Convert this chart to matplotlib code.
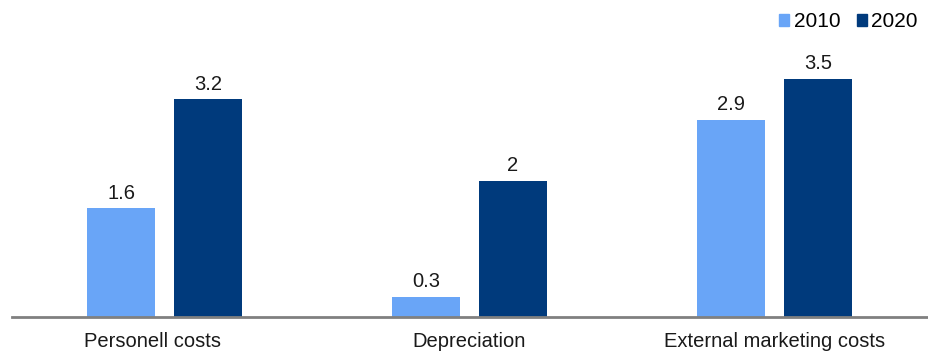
import matplotlib
matplotlib.use("Agg")
import matplotlib.pyplot as plt
from matplotlib.patches import Patch
from matplotlib.transforms import ScaledTranslation
import numpy as np

categories = ["Personell costs", "Depreciation", "External marketing costs"]
values_2010 = [1.6, 0.3, 2.9]
values_2020 = [3.2, 2.0, 3.5]
series_labels = ["2010", "2020"]

color_2010 = "#69A5F7"
color_2020 = "#003A7C"
text_color = "#1a1a1a"

plt.rcParams["font.family"] = ["Liberation Sans", "DejaVu Sans"]

W, H = 929, 351
fig = plt.figure(figsize=(W / 100, H / 100), dpi=100)
ax = fig.add_axes([12 / W, 34 / H, 915 / W, 317 / H])

x = np.arange(len(categories))
width = 0.223
offset = 0.1425

b1 = ax.bar(x - offset, values_2010, width, color=color_2010)
b2 = ax.bar(x + offset, values_2020, width, color=color_2020)

for bars, vals in ((b1, values_2010), (b2, values_2020)):
    for rect, v in zip(bars, vals):
        ax.annotate(f"{v:g}", (rect.get_x() + rect.get_width() / 2, v),
                    xytext=(0, 4), textcoords="offset points",
                    ha="center", va="bottom", fontsize=14.5, color=text_color)

ax.set_xlim(-0.5, 2.5)
ax.set_ylim(0, 317 / 68)
ax.set_xticks(x)
labels = ax.set_xticklabels(categories, fontsize=14.5, color=text_color)
ax.tick_params(axis="x", length=0, pad=11)
# first category label sits a little left of its group
labels[0].set_transform(labels[0].get_transform()
                        + ScaledTranslation(-0.12, 0, fig.dpi_scale_trans))
ax.set_yticks([])
for s in ("top", "right", "left"):
    ax.spines[s].set_visible(False)
ax.spines["bottom"].set_color("#808080")
ax.spines["bottom"].set_linewidth(2)

handles = [Patch(color=color_2010, label=series_labels[0]),
           Patch(color=color_2020, label=series_labels[1])]
fig.legend(handles=handles, loc="upper right",
           bbox_to_anchor=(918 / W, 1 - 12 / H),
           ncol=2, frameon=False, fontsize=15, handlelength=0.5,
           handleheight=0.5, handletextpad=0.2, columnspacing=0.8,
           borderpad=0, borderaxespad=0)

fig.savefig("out.png", dpi=100)
